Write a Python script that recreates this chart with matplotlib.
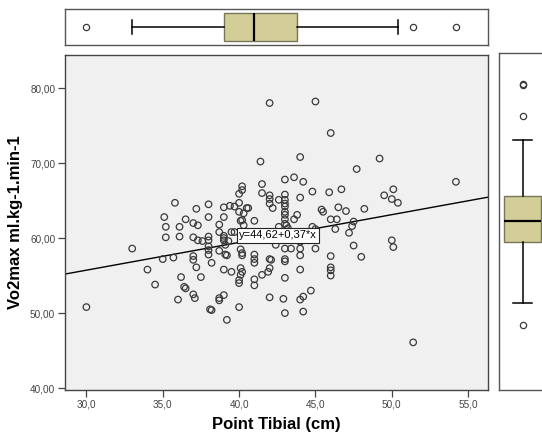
import matplotlib
matplotlib.use("Agg")
import matplotlib.pyplot as plt
from matplotlib.ticker import FuncFormatter

plt.rcParams['font.family'] = ['Liberation Sans', 'DejaVu Sans']

# points: Point Tibial (cm) vs Vo2max
x_tibial = [42.0, 45.0, 46.0, 41.4, 44.0, 49.2, 47.7, 43.0, 43.6, 44.2,
            54.2, 41.5, 41.5, 40.2, 40.2, 40.0, 42.0, 42.0, 42.0, 42.2,
            42.6, 43.0, 43.0, 43.0, 43.0, 43.0, 43.0, 43.0, 43.0, 44.0,
            44.8, 45.9, 46.7, 45.4, 45.5, 46.5, 47.0, 48.2, 46.0, 46.4,
            43.6, 43.8, 49.5, 50.1, 50.0, 50.4, 47.5, 47.4, 47.2, 47.5,
            48.0, 50.0, 50.1, 51.4, 46.3, 46.0, 46.0, 46.0, 46.0, 45.0,
            44.0, 44.0, 44.0, 44.0, 43.0, 43.0, 43.0, 44.7, 44.2, 44.0,
            42.9, 43.0, 44.2, 42.0, 43.0, 43.4, 42.4, 42.0, 42.0, 41.9,
            42.1, 41.5, 41.0, 41.0, 41.0, 41.0, 41.0, 40.2, 40.1, 40.2,
            40.1, 40.0, 40.0, 40.0, 39.2, 39.0, 39.5, 38.7, 38.7, 39.0,
            38.2, 38.1, 38.0, 38.0, 38.0, 38.0, 38.2, 37.0, 37.3, 37.0,
            37.3, 37.0, 37.0, 37.2, 37.5, 36.2, 36.4, 36.5, 37.0, 37.1,
            36.0, 35.2, 35.2, 36.1, 36.1, 35.0, 35.7, 34.0, 34.5, 33.0,
            30.0, 35.8, 37.2, 38.0, 39.0, 39.4, 39.7, 40.0, 40.0, 40.5,
            40.6, 40.3, 35.1, 36.5, 38.0, 39.0, 40.1, 41.0, 37.6, 38.0,
            38.7, 38.7, 39.0, 39.3, 39.5, 39.7, 40.2, 40.3, 42.6, 43.1,
            43.2, 44.8, 45.0, 38.7, 39.1, 39.2, 40.2, 40.1, 39.0, 39.1,
            39.0]
y_vo2 = [78.0, 78.2, 74.0, 70.2, 70.8, 70.6, 69.2, 67.8, 68.1, 67.5,
         67.5, 67.2, 66.0, 66.9, 66.4, 65.9, 65.7, 65.2, 64.6, 64.0,
         65.1, 65.8, 65.1, 64.6, 64.2, 63.5, 63.1, 62.5, 61.9, 65.4,
         66.2, 66.1, 66.5, 63.8, 63.5, 64.1, 63.6, 63.9, 62.5, 62.5,
         62.5, 63.1, 65.7, 66.5, 65.2, 64.7, 62.2, 61.6, 60.7, 59.0,
         57.5, 59.7, 58.8, 46.1, 61.2, 57.6, 56.1, 55.7, 55.0, 58.6,
         59.5, 58.6, 57.7, 55.8, 57.2, 56.9, 54.7, 53.0, 52.2, 51.8,
         51.9, 50.0, 50.2, 52.1, 58.6, 58.6, 59.1, 57.2, 56.0, 55.5,
         57.1, 55.1, 57.8, 57.2, 56.7, 54.5, 53.7, 58.0, 56.0, 55.5,
         55.1, 54.4, 54.0, 50.8, 49.1, 55.8, 55.5, 52.0, 51.7, 52.4,
         50.4, 50.5, 60.2, 58.9, 58.4, 57.8, 56.7, 62.0, 61.7, 60.1,
         59.7, 57.6, 57.1, 56.1, 54.8, 54.8, 53.5, 53.3, 52.5, 52.0,
         51.8, 61.5, 60.1, 61.5, 60.2, 57.2, 57.4, 55.8, 53.8, 58.6,
         50.8, 64.7, 63.9, 64.5, 64.1, 64.3, 64.2, 64.7, 63.5, 64.0,
         64.0, 63.3, 62.8, 62.5, 62.8, 62.8, 62.3, 62.3, 59.6, 59.7,
         61.8, 60.8, 60.0, 59.6, 60.8, 60.8, 62.4, 61.7, 61.5, 61.7,
         61.3, 61.5, 61.2, 58.3, 57.8, 57.7, 57.7, 58.5, 59.7, 59.1,
         60.3]

# fit line y = 44.62 + 0.37*x
intercept = 44.62
slope = 0.37
fit_label = "y=44,62+0,37*x"

# marginal box plots
box_x = dict(med=41.0, q1=39.0, q3=43.8, whislo=33.0, whishi=50.4,
             fliers=[30.0, 51.4, 54.2])
box_y = dict(med=62.3, q1=59.4, q3=65.6, whislo=51.3, whishi=73.0,
             fliers=[48.4, 76.2, 80.4, 80.5])

x_ticks = [30, 35, 40, 45, 50, 55]
y_ticks = [40, 50, 60, 70, 80]
xlim = (28.6, 56.3)
ylim = (39.75, 84.4)

box_face = '#d3ce98'
box_edge = '#77755a'

fig = plt.figure(figsize=(5.42, 4.37), dpi=100)
ax = fig.add_axes([65/542, 1-390/437, 423/542, 335/437])
ax_top = fig.add_axes([65/542, 1-45/437, 423/542, 36/437])
ax_right = fig.add_axes([499/542, 1-390/437, 47/542, 337/437])

# scatter
ax.set_facecolor('#f0f0f0')
ax.scatter(x_tibial, y_vo2, s=22, facecolors='none', edgecolors='#3a3a3a',
           linewidths=0.9, zorder=3)
ax.plot(list(xlim), [intercept + slope*v for v in xlim], color='black',
        lw=1.0, zorder=2)
ax.text(42.55, 60.35, fit_label, fontsize=8, ha='center', va='center',
        zorder=5, bbox=dict(boxstyle='square,pad=0.2', fc='white',
                            ec='#222222', lw=0.8))
ax.set_xlim(xlim)
ax.set_ylim(ylim)
ax.set_xticks(x_ticks)
ax.set_yticks(y_ticks)
ax.xaxis.set_major_formatter(FuncFormatter(lambda v, p: f"{v:.1f}".replace('.', ',')))
ax.yaxis.set_major_formatter(FuncFormatter(lambda v, p: f"{v:.2f}".replace('.', ',')))
ax.tick_params(labelsize=7.2, labelcolor='#444444', color='#444444',
               length=5, width=0.9, pad=2)
for s in ax.spines.values():
    s.set_color('#444444')
    s.set_linewidth(1.0)
ax.set_xlabel('Point Tibial (cm)', fontsize=12, fontweight='bold', labelpad=5)
ax.set_ylabel('Vo2max ml.kg-1.min-1', fontsize=12, fontweight='bold', labelpad=5)

boxprops = dict(facecolor=box_face, edgecolor=box_edge, linewidth=1.0)
medianprops = dict(color='black', linewidth=1.6)
whiskerprops = dict(color='black', linewidth=1.1)
capprops = dict(color='black', linewidth=1.1)
flierprops = dict(marker='o', markersize=4.5, markerfacecolor='none',
                  markeredgecolor='#3a3a3a', markeredgewidth=0.9)

# top box plot
ax_top.bxp([box_x], vert=False, widths=0.8, patch_artist=True,
           boxprops=boxprops, medianprops=medianprops,
           whiskerprops=whiskerprops, capprops=capprops,
           flierprops=flierprops)
ax_top.set_xlim(xlim)
ax_top.set_ylim(0.5, 1.5)

# right box plot
ax_right.bxp([box_y], vert=True, widths=0.78, patch_artist=True,
             boxprops=boxprops, medianprops=medianprops,
             whiskerprops=whiskerprops, capprops=capprops,
             flierprops=flierprops)
ax_right.set_ylim(39.75, 84.6)
ax_right.set_xlim(0.5, 1.5)

for a in (ax_top, ax_right):
    a.set_xticks([])
    a.set_yticks([])
    a.set_facecolor('white')
    for s in a.spines.values():
        s.set_color('#555555')
        s.set_linewidth(1.0)

fig.savefig('out.png', dpi=100)
